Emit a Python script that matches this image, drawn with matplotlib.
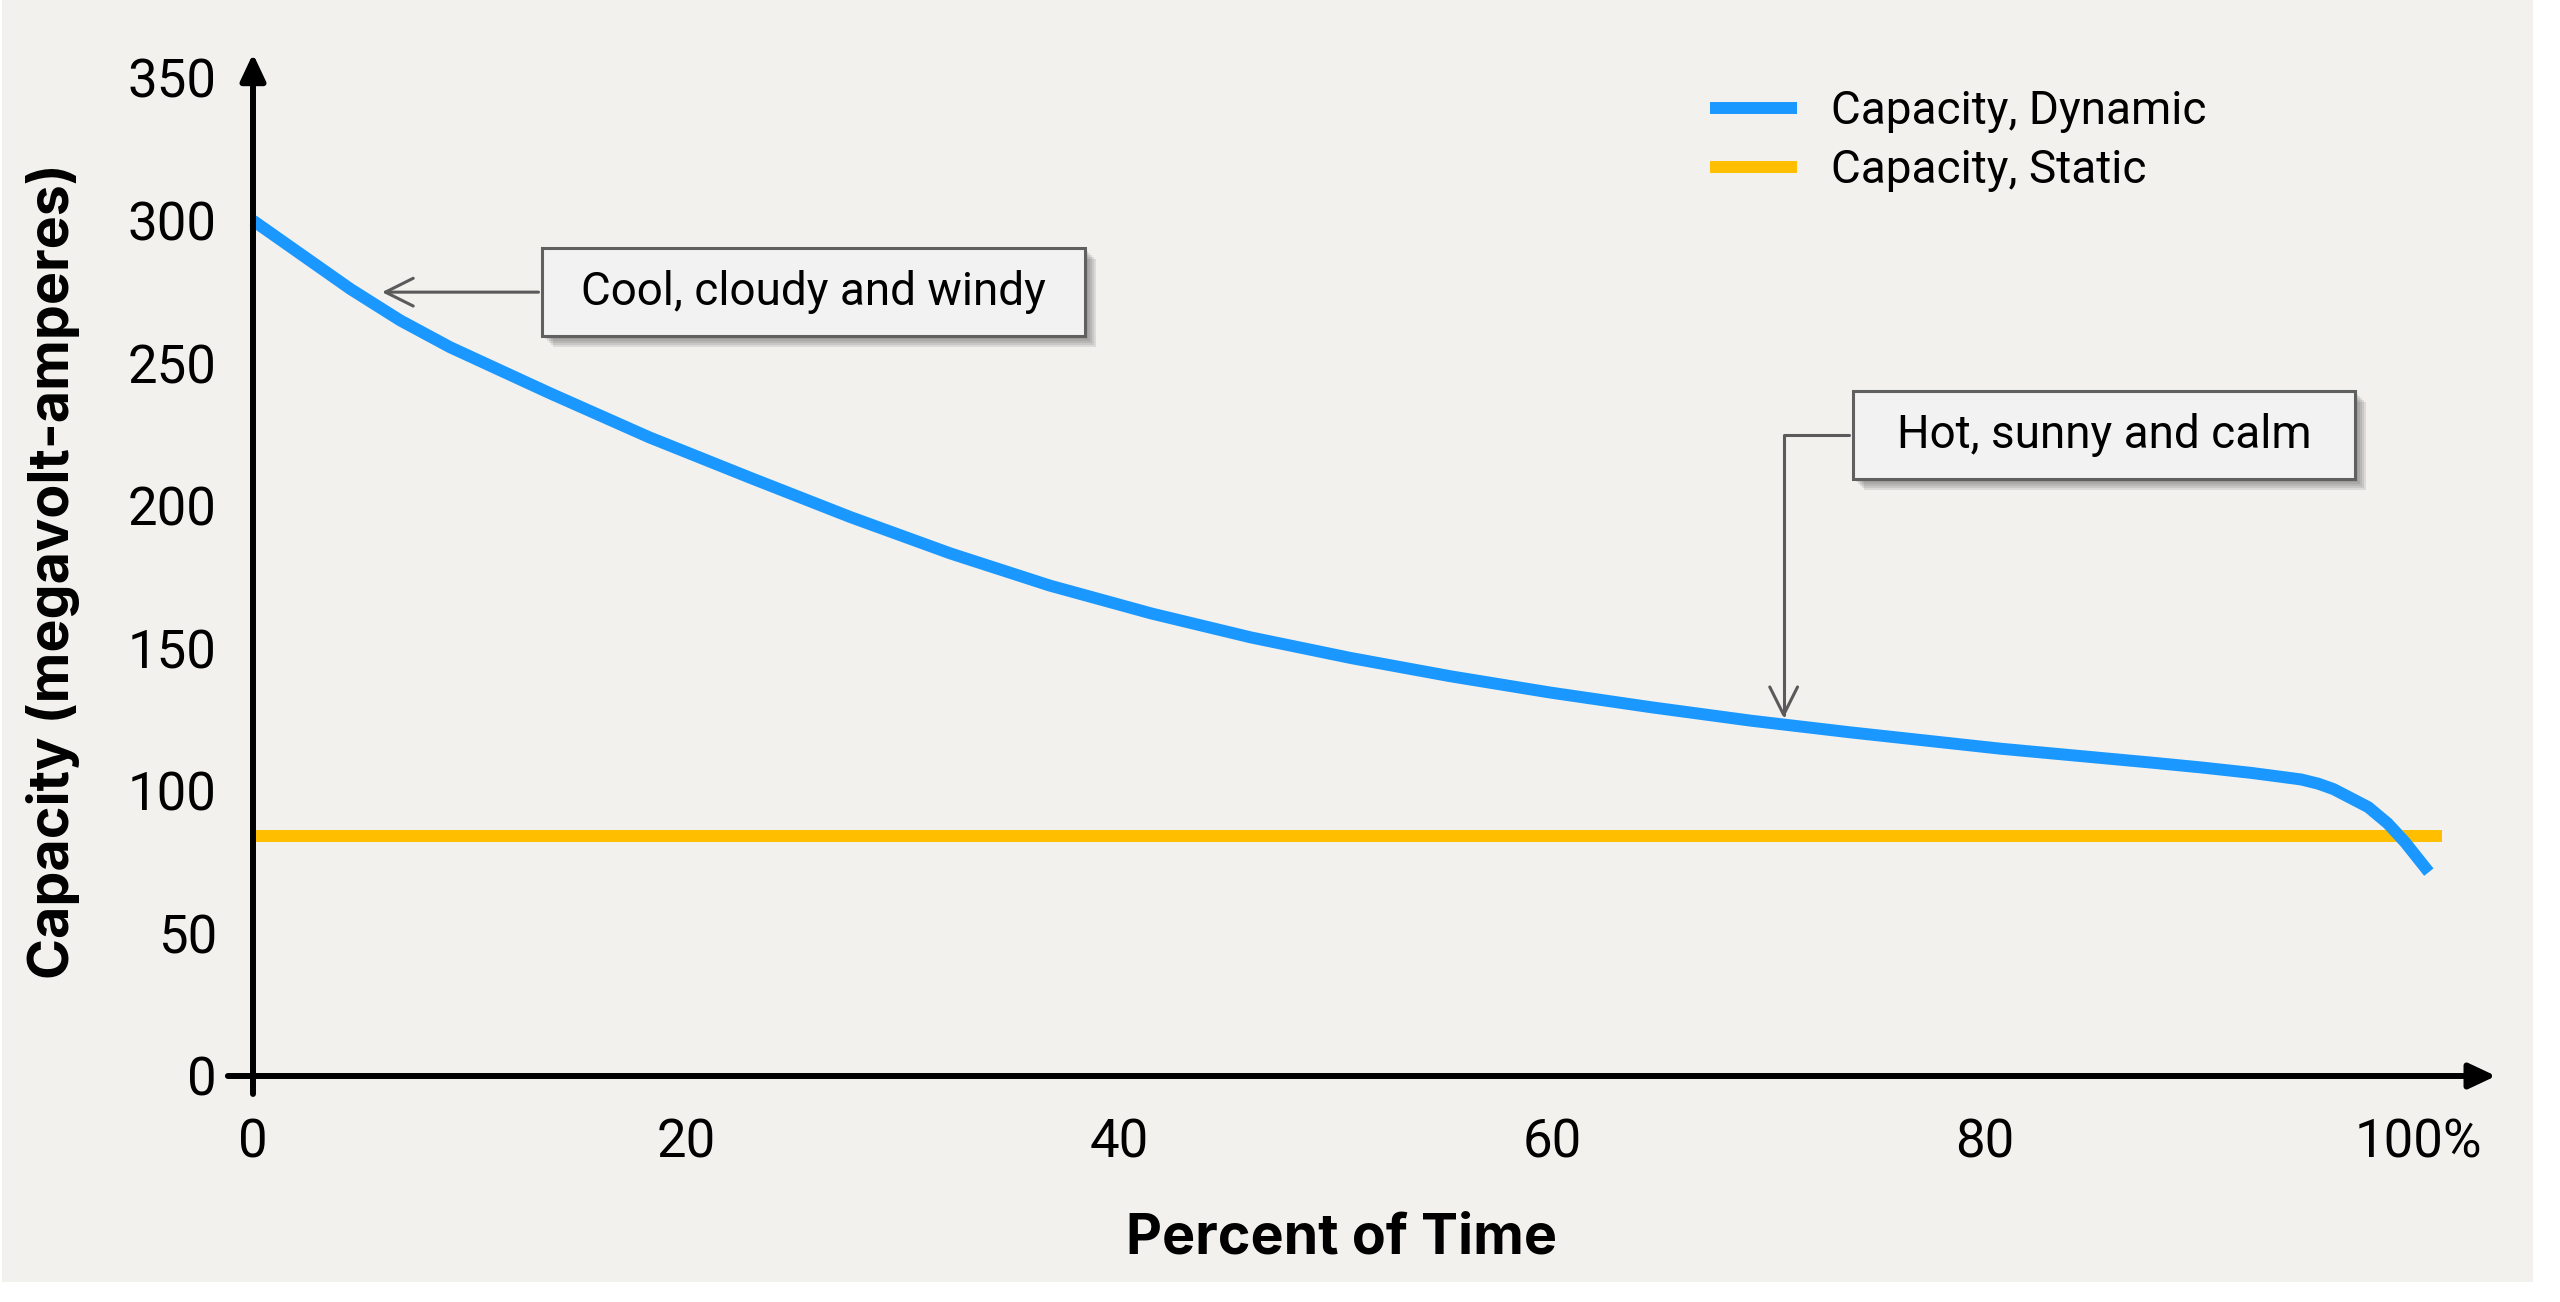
import matplotlib
matplotlib.use("Agg")
import matplotlib.pyplot as plt
import matplotlib.patheffects as pe
import matplotlib.font_manager as fm
from matplotlib.patches import Rectangle
from matplotlib.path import Path

# values
pct_time = [0, 4.5, 6.8, 9.1, 13.7, 18.3, 23.0, 27.6, 32.2, 36.8, 41.5, 46.1,
            50.7, 55.3, 59.9, 64.6, 69.2, 73.8, 80.7, 87.7, 90.0, 92.3, 94.6,
            95.4, 96.1, 97.7, 98.6, 99.4, 100.5]
cap_dynamic = [300, 276, 265, 255.6, 239.5, 224, 209.7, 196.0, 183.3, 172.0,
               162.2, 153.8, 146.6, 140.2, 134.5, 129.3, 124.6, 120.5, 114.8,
               109.9, 108.2, 106.3, 104.0, 102.5, 100.6, 94.3, 88.6, 82.0, 71.5]
static_pct = [0, 101.1]
static_cap = [84, 84]

xticks = [0, 20, 40, 60, 80, 100]
xtick_labels = ["0", "20", "40", "60", "80", "100%"]
yticks = [0, 50, 100, 150, 200, 250, 300, 350]

BLUE = "#1b98ff"
ORANGE = "#ffbf00"
BG = "#f2f1ee"
GREY = "#5a5a5a"

names = {f.name for f in fm.fontManager.ttflist}


def pick(*cands):
    for c in cands:
        if c in names:
            return c
    return "DejaVu Sans"


body_font = pick("Roboto", "Inter", "Lato")
bold_font = pick("Inter", "Roboto", "Lato")


def box_style(px, py):
    # square box with separate horizontal / vertical padding
    def _box(x0, y0, width, height, mutation_size):
        dx = px * mutation_size
        dy = py * mutation_size
        a, b = x0 - dx, y0 - dy
        c, d = x0 + width + dx, y0 + height + dy
        return Path([(a, b), (c, b), (c, d), (a, d), (a, b)],
                    [Path.MOVETO, Path.LINETO, Path.LINETO, Path.LINETO, Path.CLOSEPOLY])
    return _box


fig = plt.figure(figsize=(25.6, 13.02), dpi=100, facecolor="white")
fig.patches.append(Rectangle((2 / 2560, 20 / 1302), 2531 / 2560, 1 - 20 / 1302,
                             transform=fig.transFigure, facecolor=BG,
                             edgecolor="none", zorder=-10))

ax = fig.add_axes([253 / 2560, 226 / 1302, 2165 / 2560, 998 / 1302])
ax.set_facecolor("none")
ax.set_xlim(0, 100)
ax.set_ylim(0, 350)
for s in ax.spines.values():
    s.set_visible(False)

ax.plot(static_pct, static_cap, color=ORANGE, lw=8.6, solid_capstyle="butt",
        label="Capacity, Static", clip_on=False, zorder=3)
ax.plot(pct_time, cap_dynamic, color=BLUE, lw=8.6, solid_capstyle="butt",
        solid_joinstyle="round", label="Capacity, Dynamic", clip_on=False, zorder=4)

# axis arrows
arrow_kw = dict(arrowstyle="-|>,head_length=0.85,head_width=0.4", color="black",
                lw=4.3, mutation_scale=19, shrinkA=0, shrinkB=0)
ax.annotate("", xy=(103.6, 0), xytext=(-1.16, 0), arrowprops=arrow_kw,
            annotation_clip=False, zorder=5)
ax.annotate("", xy=(0, 358.5), xytext=(0, -6.3), arrowprops=arrow_kw,
            annotation_clip=False, zorder=5)

ax.set_xticks(xticks, xtick_labels)
ax.set_yticks(yticks)
ax.tick_params(length=0, labelsize=38, colors="black")
ax.tick_params(axis="x", pad=30)
ax.tick_params(axis="y", pad=26)
for lab in ax.get_xticklabels() + ax.get_yticklabels():
    lab.set_family(body_font)

fig.text(53 / 2560, 1 - 571 / 1302, "Capacity (megavolt-amperes)", rotation=90,
         ha="center", va="center", fontsize=40, fontweight="bold", family=bold_font)
fig.text(1342 / 2560, 1 - 1253 / 1302, "Percent of Time", ha="center",
         va="baseline", fontsize=40, fontweight="bold", family=bold_font)

# annotations
shadow = [pe.SimplePatchShadow(offset=(o, -o), shadow_rgbFace="#666666", alpha=0.16)
          for o in (2, 3.5, 5, 6.5, 8)] + [pe.Normal()]
box_kw = dict(fc="#f2f2f2", ec="#606060", lw=2.2)
head = "->,head_length=1.0,head_width=0.5"

a1 = ax.annotate("Cool, cloudy and windy", xy=(5.96, 274.9), xytext=(25.9, 274.9),
                 ha="center", va="center", fontsize=33, family=body_font,
                 bbox=dict(boxstyle=box_style(0.85, 0.48), **box_kw),
                 arrowprops=dict(arrowstyle=head, color=GREY, lw=2.2,
                                 mutation_scale=20, shrinkB=0), zorder=6)
a1.get_bbox_patch().set_path_effects(shadow)

a2 = ax.annotate("Hot, sunny and calm", xy=(70.7, 125.5), xytext=(85.5, 224.8),
                 ha="center", va="center", fontsize=33, family=body_font,
                 bbox=dict(boxstyle=box_style(0.95, 0.48), **box_kw),
                 arrowprops=dict(arrowstyle=head, color=GREY, lw=2.2,
                                 mutation_scale=20, shrinkB=0,
                                 connectionstyle="angle,angleA=0,angleB=90,rad=0"),
                 zorder=6)
a2.get_bbox_patch().set_path_effects(shadow)

handles, labels = ax.get_legend_handles_labels()
leg = ax.legend(handles[::-1], labels[::-1], loc="upper left",
                bbox_to_anchor=(1710 / 2560, 1 - 89 / 1302),
                bbox_transform=fig.transFigure, frameon=False, borderpad=0,
                borderaxespad=0, handlelength=1.9, handletextpad=0.75,
                labelspacing=0.32, prop={"family": body_font, "size": 33})

fig.savefig("out.png", dpi=100, facecolor=fig.get_facecolor())
